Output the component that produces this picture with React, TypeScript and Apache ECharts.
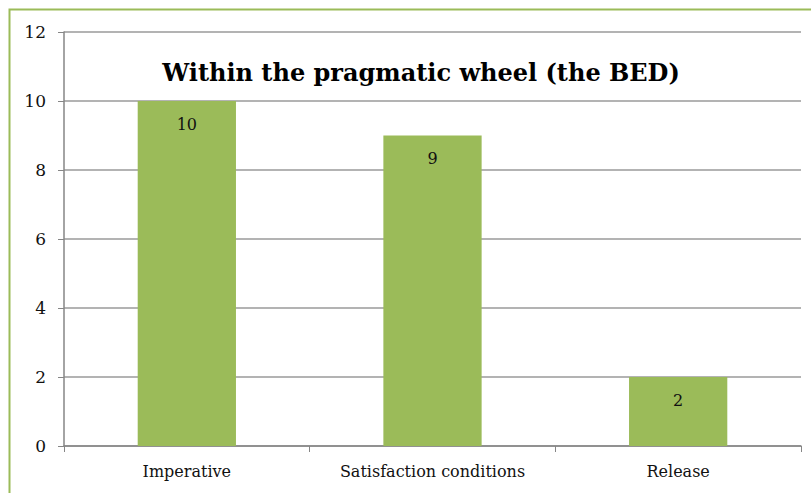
import React, { useEffect, useRef } from "react";
import * as echarts from "echarts";

const categories = ["Imperative", "Satisfaction conditions", "Release"];
const values = [10, 9, 2];
const titleText = "Within the pragmatic wheel (the BED)";

export default function App() {
  const ref = useRef<HTMLDivElement>(null);
  useEffect(() => {
    if (!ref.current) return;
    const chart = echarts.init(ref.current, null, { renderer: "svg" });
    const serif = "DejaVu Serif";
    chart.setOption({
      animation: false,
      backgroundColor: "#ffffff",
      title: {
        text: titleText,
        left: 416,
        textAlign: "center",
        top: 55,
        textStyle: { fontFamily: serif, fontWeight: "bold", fontSize: 24, color: "#000" },
      },
      graphic: [
        {
          type: "rect",
          shape: { x: 9.5, y: 9.5, width: 900, height: 600 },
          style: { fill: "none", stroke: "#9BBB59", lineWidth: 2 },
          silent: true,
        },
      ],
      grid: { left: 64, top: 32, right: 10, bottom: 47 },
      xAxis: {
        type: "category",
        data: categories,
        axisLine: { lineStyle: { color: "#868686", width: 1.5 } },
        axisTick: { show: true, length: 6, alignWithLabel: false, lineStyle: { color: "#868686" } },
        axisLabel: { fontFamily: serif, fontSize: 16, color: "#111", margin: 17, interval: 0 },
      },
      yAxis: {
        type: "value",
        min: 0,
        max: 12,
        interval: 2,
        axisLine: { show: true, lineStyle: { color: "#868686", width: 1.5 } },
        axisTick: { show: true, length: 6, lineStyle: { color: "#868686" } },
        axisLabel: { fontFamily: serif, fontSize: 17, color: "#111", margin: 18 },
        splitLine: { show: true, lineStyle: { color: "#9a9a9a", width: 1.5 } },
      },
      series: [
        {
          type: "bar",
          data: values,
          barWidth: "40%",
          itemStyle: { color: "#9BBB59" },
          label: {
            show: true,
            position: "insideTop",
            distance: 15,
            fontFamily: serif,
            fontSize: 16,
            color: "#111",
          },
        },
      ],
    });
    return () => chart.dispose();
  }, []);
  return (
    <div
      ref={ref}
      style={{ position: "absolute", left: 0, top: 0, width: 811, height: 493 }}
    />
  );
}
